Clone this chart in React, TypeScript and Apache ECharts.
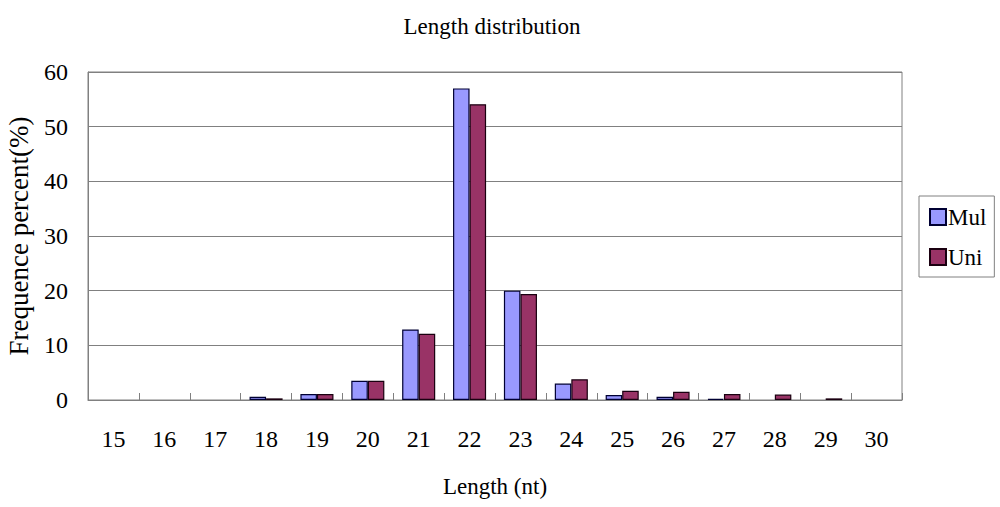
import React, { useEffect, useRef } from "react";
import * as echarts from "echarts";

const categories = ["15", "16", "17", "18", "19", "20", "21", "22", "23", "24", "25", "26", "27", "28", "29", "30"];
const mulValues = [null, null, null, 0.6, 1.1, 3.5, 12.9, 57.0, 20.0, 3.0, 0.9, 0.6, 0.2, null, null, null];
const uniValues = [null, null, null, 0.3, 1.1, 3.5, 12.1, 54.1, 19.4, 3.8, 1.7, 1.5, 1.1, 1.0, 0.3, null];
const yTicks = { min: 0, max: 60, interval: 10 };

const FONT = "'Liberation Serif', 'Times New Roman', serif";

export default function App() {
  const ref = useRef<HTMLDivElement>(null);
  useEffect(() => {
    if (!ref.current) return;
    const chart = echarts.init(ref.current, null, { renderer: "svg" });
    chart.setOption({
      animation: false,
      backgroundColor: "#ffffff",
      textStyle: { fontFamily: FONT, color: "#000" },
      title: {
        text: "Length distribution",
        left: 487,
        top: 10,
        textAlign: "center",
        textStyle: { fontFamily: FONT, fontSize: 23, fontWeight: "normal", color: "#000" },
      },
      legend: {
        orient: "vertical",
        left: 919,
        top: 196,
        padding: [9, 8, 8, 10],
        itemGap: 16,
        itemWidth: 16,
        itemHeight: 16,
        borderColor: "#808080",
        borderWidth: 1,
        icon: "rect",
        textStyle: { fontFamily: FONT, fontSize: 23, color: "#000", lineHeight: 24, padding: [0, 0, 0, -3] },
        data: ["Mul", "Uni"],
      },
      grid: {
        left: 88,
        right: 98,
        top: 72,
        bottom: 107,
        show: true,
        borderColor: "#808080",
        borderWidth: 1,
        outerBoundsMode: "none",
        containLabel: false,
      },
      xAxis: {
        type: "category",
        data: categories,
        name: "Length (nt)",
        nameLocation: "middle",
        nameGap: 75,
        nameTextStyle: { fontFamily: FONT, fontSize: 23, color: "#000" },
        axisLine: { lineStyle: { color: "#808080", width: 1 } },
        axisTick: { show: true, inside: true, length: 7, lineStyle: { color: "#808080" } },
        axisLabel: { fontFamily: FONT, fontSize: 24, color: "#000", margin: 27 },
      },
      yAxis: {
        type: "value",
        min: yTicks.min,
        max: yTicks.max,
        interval: yTicks.interval,
        axisLine: { show: true, lineStyle: { color: "#808080", width: 1 } },
        axisTick: { show: false },
        splitLine: { lineStyle: { color: "#808080", width: 1 } },
        axisLabel: { fontFamily: FONT, fontSize: 24, color: "#000", margin: 20 },
      },
      graphic: [
        {
          type: "text",
          x: 19,
          y: 236,
          rotation: Math.PI / 2,
          style: {
            text: "Frequence percent(%)",
            fontFamily: FONT,
            fontSize: 27,
            fill: "#000",
            align: "center",
            verticalAlign: "middle",
          },
        },
      ],
      series: [
        {
          name: "Mul",
          type: "bar",
          data: mulValues,
          barGap: "0%",
          barCategoryGap: "35%",
          itemStyle: { color: "#9999FF", borderColor: "#000033", borderWidth: 1.2 },
        },
        {
          name: "Uni",
          type: "bar",
          data: uniValues,
          barGap: "0%",
          barCategoryGap: "35%",
          itemStyle: { color: "#993366", borderColor: "#1a0010", borderWidth: 1.2 },
        },
      ],
    });
    return () => chart.dispose();
  }, []);
  return (
    <div
      ref={ref}
      style={{ position: "fixed", left: 0, top: 0, width: 1000, height: 507, background: "#fff" }}
    />
  );
}
